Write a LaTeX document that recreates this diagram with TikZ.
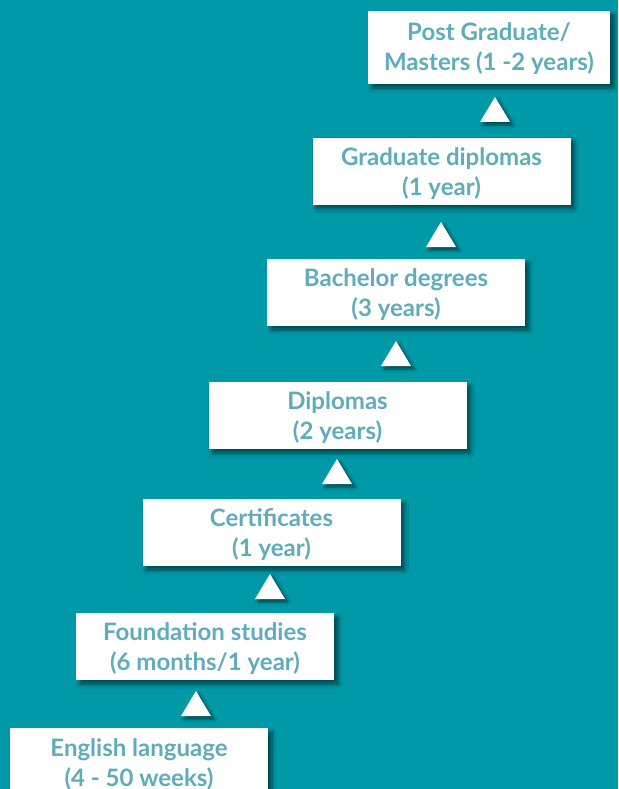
\documentclass[tikz,border=0pt]{standalone}
\usepackage{fontspec}
\setmainfont{Lato}
\usetikzlibrary{shadows,shadows.blur}
\definecolor{bg}{HTML}{0099A8}
\definecolor{txt}{HTML}{5FACBA}
\tikzset{
  levelbox/.style={fill=white, minimum width=258pt, minimum height=67pt, inner sep=0pt,
    blur shadow={shadow xshift=4pt, shadow yshift=-4pt, shadow opacity=55, shadow blur steps=6, shadow blur radius=4pt}},
  boxtext/.style={align=center, text=txt, inner sep=0pt, yshift=-2.5pt,
    font=\bfseries\fontsize{24}{30}\selectfont},
  uparrow/.style={fill=white,
    blur shadow={shadow xshift=3pt, shadow yshift=-3pt, shadow opacity=55, shadow blur steps=5, shadow blur radius=3pt}}
}
\begin{document}
\begin{tikzpicture}[x=1pt,y=-1pt]
\fill[bg] (0,0) rectangle (618,789);
\useasboundingbox (0,0) rectangle (618,789);
\node[levelbox, minimum width=242pt, minimum height=73pt, label={[boxtext, yshift=1pt]center:{Post Graduate/\\Masters (1 -2 years)}}] (pg) at (489,47.5) {};
\node[levelbox, label={[boxtext]center:{Graduate diplomas\\(1 year)}}] (gd) at (441.5,171) {};
\node[levelbox, label={[boxtext]center:{Bachelor degrees\\(3 years)}}] (bd) at (396,292.5) {};
\node[levelbox, label={[boxtext]center:{Diplomas\\(2 years)}}] (dp) at (337.5,415.5) {};
\node[levelbox, label={[boxtext]center:{Certificates\\(1 year)}}] (ce) at (271.5,532.5) {};
\node[levelbox, label={[boxtext]center:{Foundation studies\\(6 months/1 year)}}] (fs) at (205,646.5) {};
\node[levelbox, label={[boxtext]center:{English language\\(4 - 50 weeks)}}] (el) at (139,761.5) {};
\foreach \n/\cx/\ty in {a1/495/97, a2/441/222, a3/396/341, a4/337/459, a5/270/574, a6/196/691}{
  \coordinate (\n) at (\cx,\ty);
  \path[uparrow] (\n) -- ++(15,25) -- ++(-30,0) -- cycle;
}
\end{tikzpicture}
\end{document}
